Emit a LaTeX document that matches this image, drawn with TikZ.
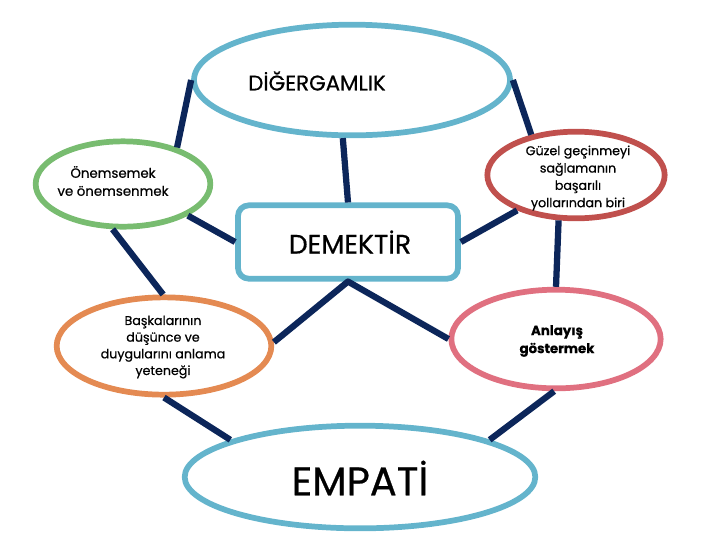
\documentclass[tikz,border=0pt]{standalone}
\usepackage{fontspec}
\setmainfont{Poppins}[FakeBold=0.6]
\usetikzlibrary{shapes.geometric}
\definecolor{skyblue}{RGB}{100,180,204}
\definecolor{leafgreen}{RGB}{120,188,112}
\definecolor{brickred}{RGB}{192,80,77}
\definecolor{peach}{RGB}{228,138,82}
\definecolor{rosepink}{RGB}{224,112,128}
\definecolor{navyline}{RGB}{12,38,90}

\begin{document}
\begin{tikzpicture}[x=0.75pt, y=-0.75pt, line join=round,
    bubble/.style={ellipse, draw=#1, line width=4.3pt, fill=white, inner sep=0pt},
    link/.style={draw=navyline, line width=4.7pt},
    txt/.style={align=center, font=\fontsize{9.5}{13}\selectfont}]

    % page 720 x 540 px, y runs downwards
    \useasboundingbox (0,0) rectangle (720,540);

    % Ellipses and the box in the middle
    \node[bubble=skyblue, minimum width=237pt, minimum height=83pt] (dig) at (352,80) {};
    \node[bubble=leafgreen, minimum width=131pt, minimum height=64pt] (onem) at (123,184) {};
    \node[bubble=brickred, minimum width=133pt, minimum height=65pt] (guzel) at (576,175) {};
    \node[rectangle, rounded corners=8pt, draw=skyblue, line width=4.3pt, fill=white,
          minimum width=165pt, minimum height=55pt] (dem) at (348,242) {};
    \node[bubble=peach, minimum width=161pt, minimum height=73pt] (bask) at (164,346) {};
    \node[bubble=rosepink, minimum width=157pt, minimum height=74pt] (anla) at (556,339) {};
    \node[bubble=skyblue, minimum width=263pt, minimum height=77pt] (emp) at (360,477) {};

    % Texts
    \node[font=\fontsize{16}{18}\selectfont] (dig-t) at (317,81) {DİĞERGAMLIK};
    \node[txt, font=\fontsize{10}{13.5}\selectfont] (onem-t) at (113,181) {Önemsemek\\ve önemsenmek};
    \node[txt] (guzel-t) at (578,178) {Güzel geçinmeyi\\sağlamanın\\başarılı\\yollarından biri};
    \node[font=\fontsize{20}{22}\selectfont] (dem-t) at (350,242) {DEMEKTİR};
    \node[txt, font=\fontsize{9.5}{12.5}\selectfont] (bask-t) at (163,347) {Başkalarının\\düşünce ve\\duygularını anlama\\yeteneği};
    \node[txt, font=\fontsize{10}{13.5}\selectfont\bfseries] (anla-t) at (557,341) {Anlayış\\göstermek};
    \node[font=\fontsize{30}{34}\selectfont] (emp-t) at (360,478) {EMPATİ};

    % Connectors
    \draw[link] (dig.180) -- (onem.34);
    \draw[link] (dig.0) -- (guzel.138);
    \draw[link] (dig.261) -- (dem.north);
    \draw[link] (onem.-26) -- (dem.west);
    \draw[link] (guzel.211) -- (dem.east);
    \draw[link] (onem.257) -- (bask.91);
    \draw[link] (guzel.249) -- (anla.north);
    \draw[link] (bask.2) -- (dem.south) -- (anla.west);
    \draw[link] (bask.south) -- (emp.164);
    \draw[link] (anla.268) -- (emp.16);

\end{tikzpicture}
\end{document}
